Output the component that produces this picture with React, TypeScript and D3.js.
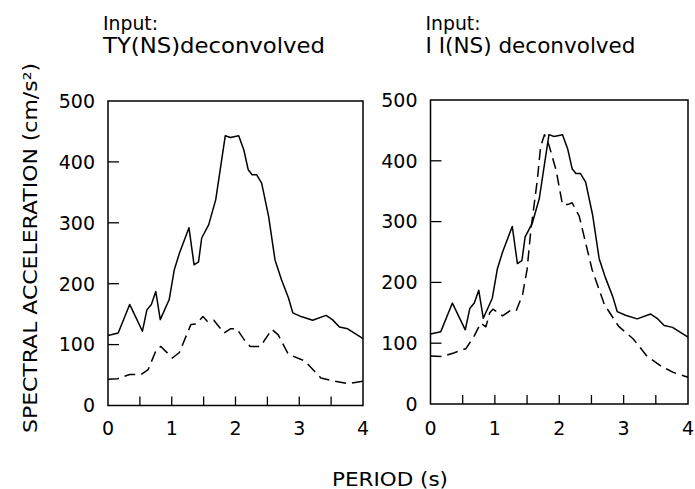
import React from "react";
import * as d3 from "d3";

const periodTicks = [0, 0.5, 1, 1.5, 2, 2.5, 3, 3.5, 4];
const periodLabels = ["0", "1", "2", "3", "4"];
const accelTicks = [0, 100, 200, 300, 400, 500];

// observed (solid) spectrum — same in both panels
const solidPeriod = [0, 0.16, 0.34, 0.54, 0.61, 0.68, 0.75, 0.82, 0.96, 1.04, 1.12, 1.27, 1.35, 1.42, 1.47, 1.58, 1.69, 1.84, 1.92, 2.05, 2.13, 2.2, 2.26, 2.33, 2.41, 2.52, 2.62, 2.72, 2.83, 2.9, 3.03, 3.21, 3.42, 3.52, 3.63, 3.76, 4.0];
const solidAccel = [115, 119, 166, 122, 157, 166, 187, 141, 174, 223, 250, 292, 231, 236, 275, 297, 338, 443, 440, 443, 420, 387, 379, 379, 365, 310, 239, 207, 177, 152, 146, 140, 148, 141, 129, 126, 110];

// TY(NS) deconvolved input (dashed, left)
const tyPeriod = [0, 0.15, 0.34, 0.52, 0.63, 0.76, 0.83, 1.01, 1.12, 1.3, 1.38, 1.49, 1.56, 1.66, 1.82, 1.92, 2.02, 2.13, 2.23, 2.39, 2.57, 2.67, 2.83, 3.09, 3.34, 3.55, 3.76, 4.0];
const tyAccel = [43, 44, 51, 51, 59, 92, 97, 78, 87, 133, 134, 146, 138, 140, 119, 126, 126, 109, 97, 97, 125, 116, 84, 73, 45, 40, 36, 40];

// II(NS) deconvolved input (dashed, right)
const iiPeriod = [0, 0.18, 0.36, 0.55, 0.68, 0.78, 0.86, 0.92, 0.97, 1.12, 1.23, 1.33, 1.43, 1.5, 1.56, 1.66, 1.71, 1.77, 1.84, 1.95, 2.05, 2.13, 2.2, 2.31, 2.41, 2.51, 2.7, 2.92, 3.15, 3.36, 3.57, 3.77, 4.0];
const iiAccel = [79, 78, 84, 91, 112, 133, 127, 150, 156, 145, 153, 153, 180, 221, 287, 369, 423, 443, 426, 385, 328, 328, 331, 309, 265, 221, 164, 128, 107, 79, 63, 52, 44];

const titleLine2 = ["TY(NS)deconvolved", "I I(NS) deconvolved"];

const FONT = "'DejaVu Sans', sans-serif";

type PanelProps = {
  x0: number; x1: number; yTop: number; yBot: number;
  title: string; titleW: number; dashP: number[]; dashA: number[];
};

function Panel({ x0, x1, yTop, yBot, title, titleW, dashP, dashA }: PanelProps) {
  const x = d3.scaleLinear().domain([0, 4]).range([x0, x1]);
  const y = d3.scaleLinear().domain([0, 500]).range([yBot, yTop]);
  const line = d3.line<[number, number]>().x(d => x(d[0])).y(d => y(d[1]));
  const solid = line(solidPeriod.map((p, i) => [p, solidAccel[i]] as [number, number])) || "";
  const dashed = line(dashP.map((p, i) => [p, dashA[i]] as [number, number])) || "";
  return (
    <g>
      <text x={x0 - 5} y={30} fontFamily={FONT} fontSize={20} textLength={55} lengthAdjust="spacingAndGlyphs">Input:</text>
      <text x={x0 - 5} y={53} fontFamily={FONT} fontSize={21} textLength={titleW} lengthAdjust="spacingAndGlyphs">{title}</text>
      <rect x={x0} y={yTop} width={x1 - x0} height={yBot - yTop} fill="none" stroke="#000" strokeWidth={1.5} />
      {accelTicks.filter(t => t > 0 && t < 500).map(t => (
        <line key={"yt" + t} x1={x0} x2={x0 + 11} y1={y(t)} y2={y(t)} stroke="#000" strokeWidth={1.3} />
      ))}
      {periodTicks.filter(t => t > 0 && t < 4).map(t => (
        <line key={"xt" + t} x1={x(t)} x2={x(t)} y1={yBot} y2={yBot - 9} stroke="#000" strokeWidth={1.3} />
      ))}
      {accelTicks.map(t => (
        <text key={"yl" + t} x={x0 - 13} y={y(t)} dy="0.36em" textAnchor="end" fontFamily={FONT} fontSize={19}>{t}</text>
      ))}
      {periodLabels.map(l => (
        <text key={"xl" + l} x={x(+l)} y={435} textAnchor="middle" fontFamily={FONT} fontSize={19}>{l}</text>
      ))}
      <path d={solid} fill="none" stroke="#000" strokeWidth={1.5} strokeLinejoin="round" />
      <path d={dashed} fill="none" stroke="#000" strokeWidth={1.5} strokeDasharray="11,6" strokeLinejoin="round" />
    </g>
  );
}

export default function App() {
  return (
    <svg width={695} height={489} style={{ position: "absolute", left: 0, top: 0, background: "#fff" }}>
      <rect x={0} y={0} width={695} height={489} fill="#fff" />
      <Panel x0={108} x1={363} yTop={101} yBot={405.5} title={titleLine2[0]} titleW={222} dashP={tyPeriod} dashA={tyAccel} />
      <Panel x0={430.5} x1={688} yTop={100} yBot={404} title={titleLine2[1]} titleW={210} dashP={iiPeriod} dashA={iiAccel} />
      <text transform="translate(37,248) rotate(-90)" textAnchor="middle" fontFamily={FONT} fontSize={19} textLength={370} lengthAdjust="spacingAndGlyphs">
        SPECTRAL  ACCELERATION (cm/s²)
      </text>
      <text x={390} y={486} textAnchor="middle" fontFamily={FONT} fontSize={19} textLength={116} lengthAdjust="spacingAndGlyphs">PERIOD (s)</text>
    </svg>
  );
}
